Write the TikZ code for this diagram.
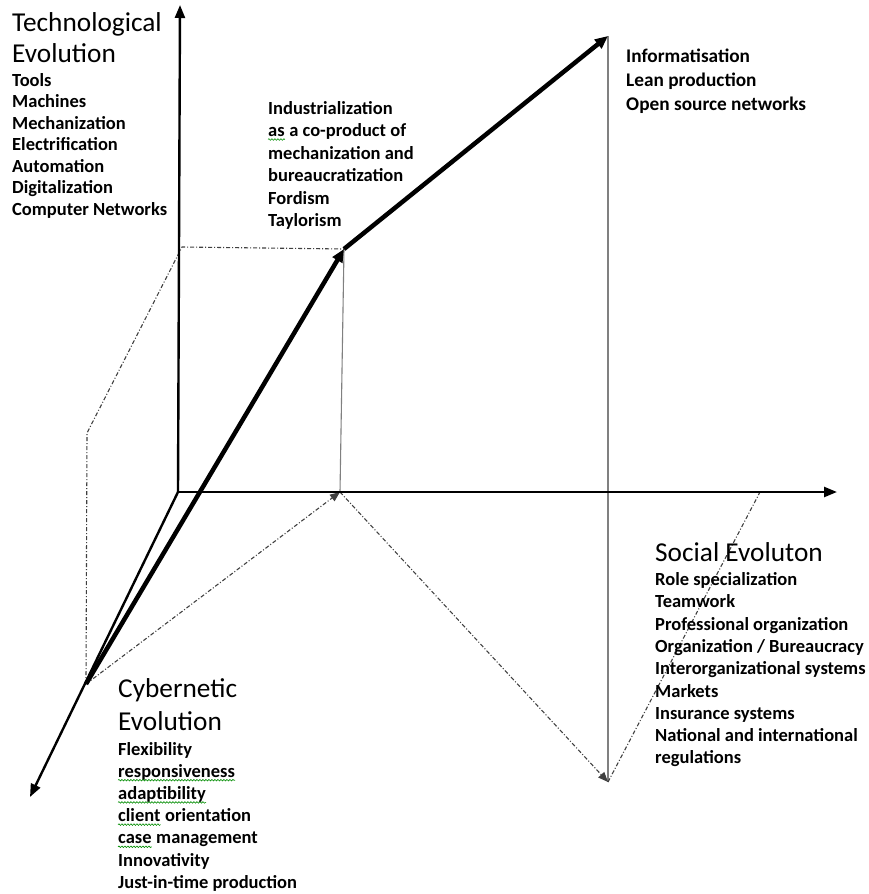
\documentclass[tikz,border=0pt]{standalone}
\usepackage{fontspec}
\setmainfont{Carlito}
\usetikzlibrary{arrows.meta,decorations.pathmorphing}
\begin{document}
\begin{tikzpicture}[x=1pt,y=-1pt,
  head/.style={font=\fontsize{27.3}{30}\selectfont, anchor=base west, inner sep=0pt},
  item/.style={font=\bfseries\fontsize{18.5}{22}\selectfont, anchor=base west, inner sep=0pt},
  itembig/.style={item, font=\bfseries\fontsize{19.3}{23}\selectfont},
  axis/.style={line width=2.4pt, -{Triangle[length=13pt,width=10pt]}},
  mainarrow/.style={line width=4.5pt, -{Triangle[length=13pt,width=11pt]}},
  guide/.style={line width=1.1pt, black!50},
  proj/.style={line width=1.1pt, black!75, dash pattern=on 4pt off 2pt on 1pt off 2pt},
  projarrow/.style={proj, -{Triangle[length=10pt,width=8pt]}},
  spell/.style={green!55!black, line width=0.6pt, decorate, decoration={snake, segment length=3pt, amplitude=0.8pt}},
]
\useasboundingbox (0,0) rectangle (869,894);

% key points
\coordinate (O) at (178,492);
\coordinate (ytip) at (180,5);
\coordinate (xtip) at (837,492);
\coordinate (ztip) at (30,797);
\coordinate (C) at (86,684);
\coordinate (P1) at (344,249);
\coordinate (P2) at (608,36);
\coordinate (S1) at (340,492);
\coordinate (B) at (608,782);
\coordinate (S2) at (760,492);
\coordinate (T1) at (182,247);
\coordinate (L) at (87,433);

% thin guides
\draw[guide] (S1) -- (P1);
\draw[guide] (B) -- (P2);

% projections
\draw[proj] (C) -- (L) -- (T1) -- (P1);
\draw[projarrow] (C) -- (S1);
\draw[projarrow] (S1) -- (B);
\draw[proj] (B) -- (S2);

% axes
\draw[axis] (O) -- (ytip);
\draw[axis] (O) -- (xtip);
\draw[axis] (O) -- (ztip);

% main evolution path
\draw[mainarrow] (C) -- (P1);
\draw[mainarrow] (P1) -- (P2);

% Technological evolution
\node[head] (th1) at (12,31.7) {Technological};
\node[head] (th2) at (12,62) {Evolution};
\foreach \t [count=\i] in {Tools,Machines,Mechanization,Electrification,Automation,Digitalization,Computer Networks}
  \node[item] (ti\i) at (12,{86+21.5*(\i-1)}) {\t};

% Industrialization
\node[item] (in1) at (268,114) {Industrialization};
\node[item] (in2a) at (268,136.5) {as};
\node[item] (in2b) at (in2a.base east) {\ a co-product of};
\foreach \t [count=\i from 3] in {mechanization and,bureaucratization,Fordism,Taylorism}
  \node[item] (in\i) at (268,{114+22.5*(\i-1)}) {\t};

% Informatisation
\foreach \t [count=\i] in {Informatisation,Lean production,Open source networks}
  \node[itembig] (if\i) at (626,{62+24*(\i-1)}) {\t};

% Social evolution
\node[head] (sh1) at (655,561) {Social Evoluton};
\foreach \t [count=\i] in {Role specialization,Teamwork,Professional organization,Organization / Bureaucracy,Interorganizational systems,Markets,Insurance systems,National and international,regulations}
  \node[item] (si\i) at (655,{585.5+22.3*(\i-1)}) {\t};

% Cybernetic evolution
\node[head] (ch1) at (118,697) {Cybernetic};
\node[head] (ch2) at (118,730) {Evolution};
\node[item] (ci1) at (118,755) {Flexibility};
\node[item] (ci2) at (118,777.2) {responsiveness};
\node[item] (ci3) at (118,799.4) {adaptibility};
\node[item] (ci4a) at (118,821.6) {client};
\node[item] (ci4b) at (ci4a.base east) {\ orientation};
\node[item] (ci5a) at (118,843.8) {case};
\node[item] (ci5b) at (ci5a.base east) {\ management};
\node[item] (ci6) at (118,866) {Innovativity};
\node[item] (ci7) at (118,888.2) {Just-in-time production};

% spell-check underlines
\foreach \w in {in2a,ci2,ci3,ci4a,ci5a}
  \draw[spell] ([yshift=-3pt]\w.base west) -- ([yshift=-3pt]\w.base east);
\end{tikzpicture}
\end{document}
